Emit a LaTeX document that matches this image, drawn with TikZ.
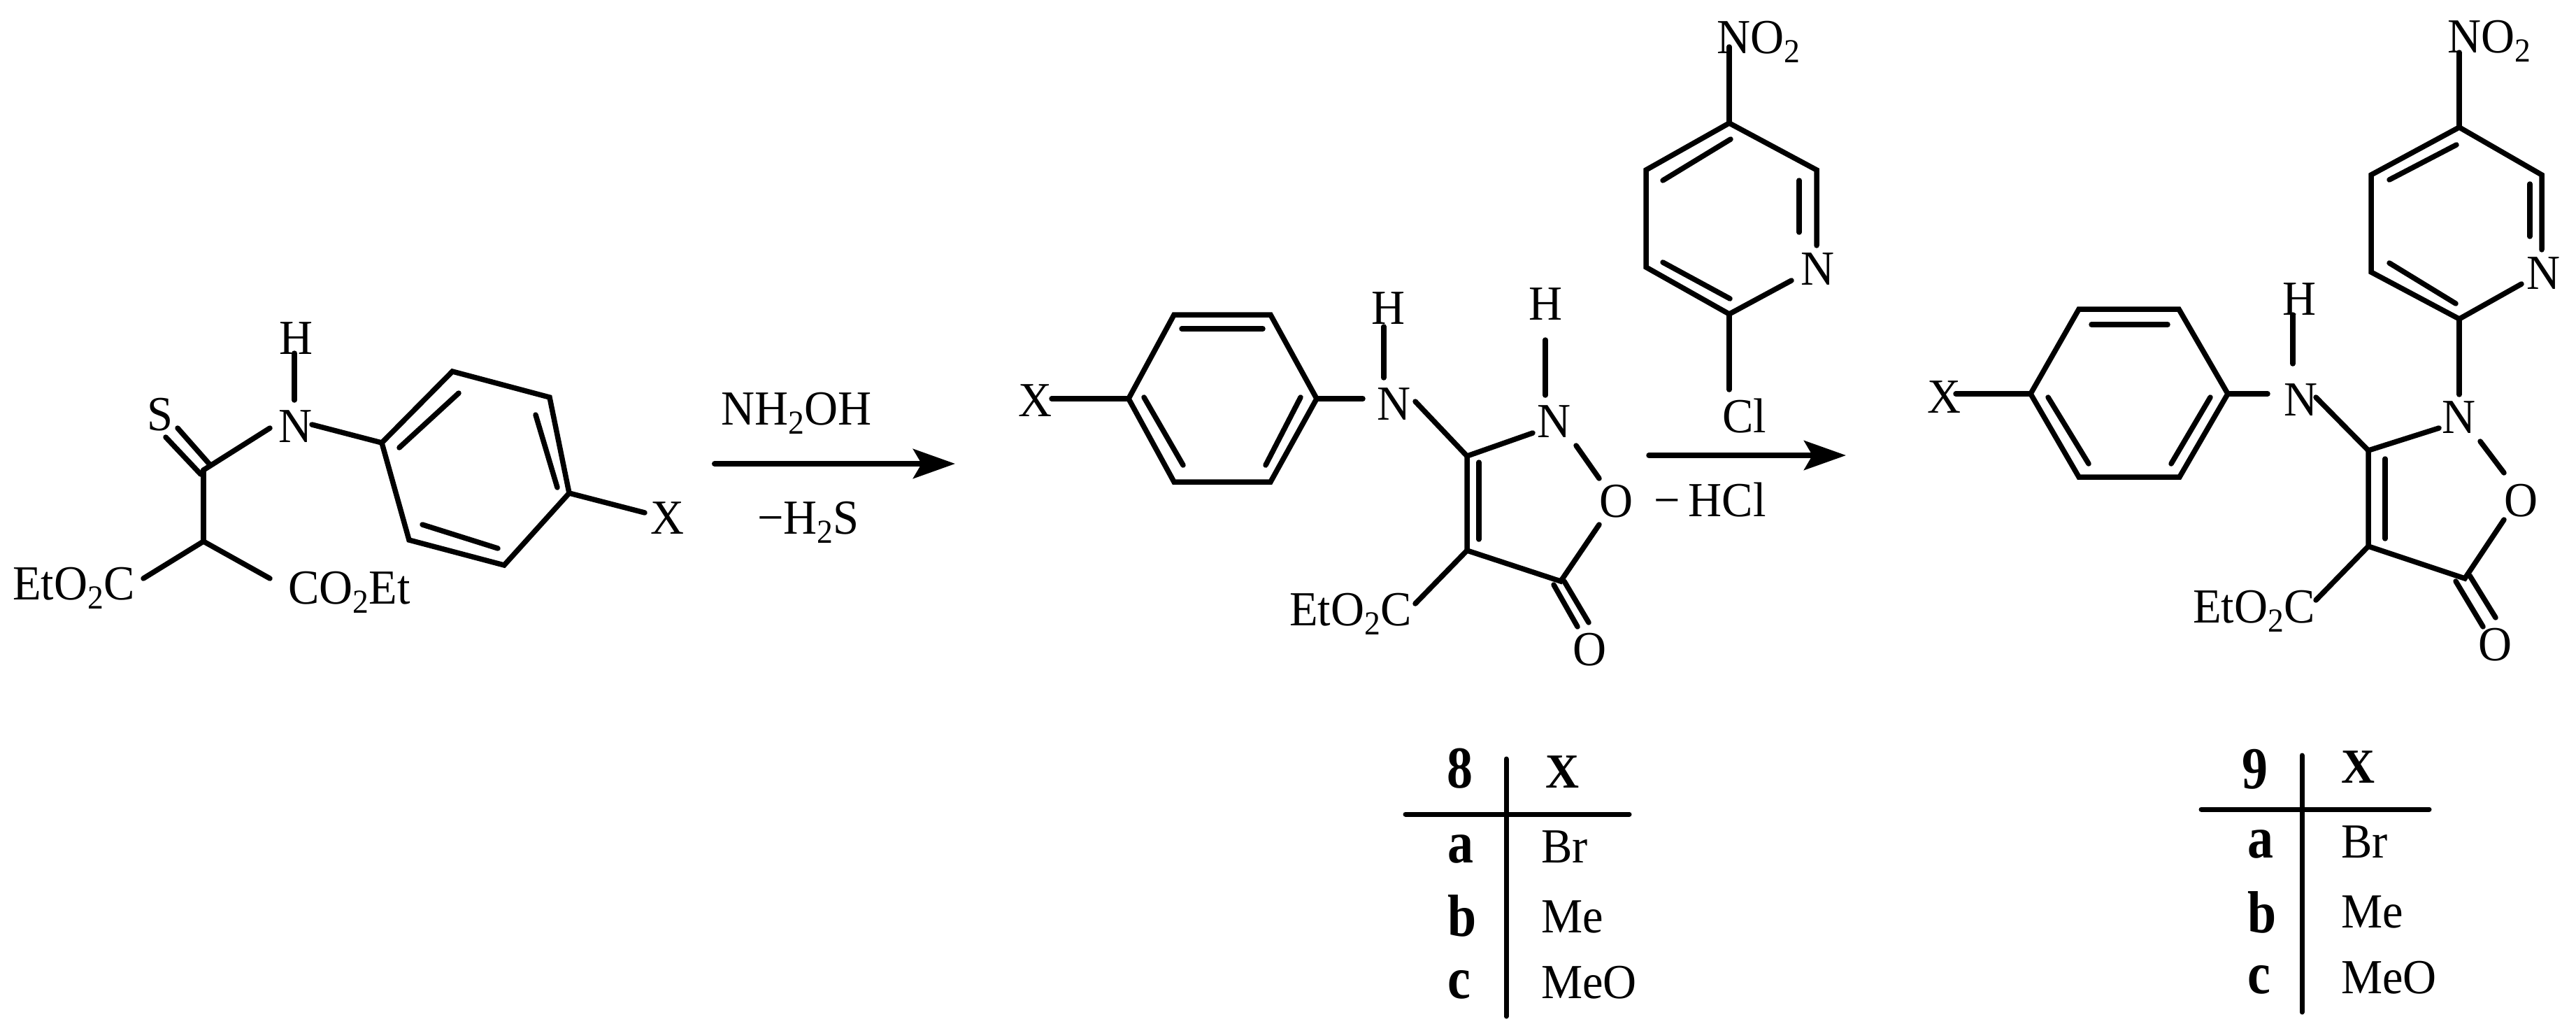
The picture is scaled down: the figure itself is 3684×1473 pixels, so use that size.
\documentclass[tikz,border=0pt]{standalone}
\usepackage{fontspec}
\setmainfont[FakeStretch=0.95]{Liberation Serif}
\newfontfamily\keyfont[FakeStretch=0.87]{Liberation Serif}
\usetikzlibrary{arrows.meta}
\newcommand\chemsize{\fontsize{70}{72}\selectfont}
\newcommand\subsize{\fontsize{48}{48}\selectfont}
\newcommand\keysize{\keyfont\fontsize{85}{90}\selectfont\bfseries}
\newcommand\lowtwo{\raisebox{-13pt}{\subsize 2}}
\tikzset{
  bond/.style={line width=7.5pt,line cap=round,line join=miter},
  rxn/.style={line width=#1,line cap=round,-{Stealth[length=60pt,width=42pt,inset=12pt]}},
  rxn/.default=7.5pt,
  rule/.style={line width=7pt,line cap=round},
  atom/.style={inner sep=0pt,anchor=base,font=\chemsize},
  formula/.style={inner sep=0pt,anchor=base west,font=\chemsize},
  keylab/.style={inner sep=0pt,anchor=base,font=\keysize},
  keyx/.style={inner sep=0pt,anchor=base,font=\fontsize{70}{72}\selectfont\bfseries},
  keyrow/.style={inner sep=0pt,anchor=base west,font=\keysize},
}
\begin{document}
\begin{tikzpicture}[x=1pt,y=-1pt]
\useasboundingbox (0,0) rectangle (3684,1473);
\fill[white] (0,0) rectangle (3684,1473);

% ---------- starting thioamide ----------
\node[atom] (aH) at (424,506) {H};
\node[atom] (aN) at (423,632) {N};
\node[atom] (aS) at (229,615) {S};
\node[atom] (aX) at (955,763) {X};
\node[formula] (aEst1) at (18,857) {EtO\lowtwo C};
\node[formula] (aEst2) at (412,863) {CO\lowtwo Et};
\coordinate (aC) at (291,672);
\coordinate (aCH) at (291,774);
\coordinate (a1) at (546,633);
\coordinate (a2) at (647,531);
\coordinate (a3) at (786,568);
\coordinate (a4) at (814,705);
\coordinate (a5) at (721,808);
\coordinate (a6) at (585,772);
\coordinate (aHb) at (421,505);
\coordinate (aNt) at (421,572);
\coordinate (aNl) at (386,612);
\coordinate (aNr) at (446,607);
\coordinate (aSa) at (254,612);
\coordinate (aSb) at (237,625);
\coordinate (aCa) at (299,663);
\coordinate (aCb) at (287,678);
\coordinate (aXb) at (922,733);
\coordinate (aE1) at (205,827);
\coordinate (aE2) at (386,827);
\coordinate (ai1) at (656,562);
\coordinate (ai2) at (571,640);
\coordinate (ai3) at (766,593);
\coordinate (ai4) at (797,697);
\coordinate (ai5) at (604,750);
\coordinate (ai6) at (712,784);
\draw[bond] (a1)--(a2)--(a3)--(a4)--(a5)--(a6)--cycle;
\draw[bond] (ai1)--(ai2);
\draw[bond] (ai3)--(ai4);
\draw[bond] (ai5)--(ai6);
\draw[bond] (aHb)--(aNt);
\draw[bond] (aC)--(aNl);
\draw[bond] (aNr)--(a1);
\draw[bond] (aCa)--(aSa);
\draw[bond] (aCb)--(aSb);
\draw[bond] (aC)--(aCH);
\draw[bond] (aCH)--(aE1);
\draw[bond] (aCH)--(aE2);
\draw[bond] (a4)--(aXb);

% ---------- arrow 1 ----------
\node[formula] (r1) at (1031,607) {NH\lowtwo OH};
\node[formula] (r2) at (1083,763) {−H\lowtwo S};
\coordinate (A1s) at (1022,663);
\coordinate (A1e) at (1366,663);
\draw[rxn=8pt] (A1s)--(A1e);

% ---------- compound 8 ----------
\node[atom] (bX) at (1480,595) {X};
\node[atom] (bH1) at (1985,463) {H};
\node[atom] (bN1) at (1993,600) {N};
\node[atom] (bH2) at (2210,457) {H};
\node[atom] (bN2) at (2222,625) {N};
\node[atom] (bO1) at (2311,739) {O};
\node[atom] (bO2) at (2273,951) {O};
\node[formula] (bEst) at (1844,894) {EtO\lowtwo C};
\coordinate (b1) at (1614,570);
\coordinate (b2) at (1679,450);
\coordinate (b3) at (1817,450);
\coordinate (b4) at (1883,570);
\coordinate (b5) at (1817,689);
\coordinate (b6) at (1679,689);
\coordinate (bi1) at (1690,470);
\coordinate (bi2) at (1806,470);
\coordinate (bi3) at (1636,568);
\coordinate (bi4) at (1692,665);
\coordinate (bi5) at (1860,568);
\coordinate (bi6) at (1810,665);
\coordinate (bXb) at (1504,570);
\coordinate (bNl) at (1949,570);
\coordinate (bHa) at (1979,467);
\coordinate (bHb) at (1979,540);
\coordinate (bNr) at (2024,574);
\coordinate (bC3) at (2098,652);
\coordinate (bC4) at (2098,787);
\coordinate (bC5) at (2232,831);
\coordinate (bN2l) at (2192,619);
\coordinate (bH2a) at (2210,486);
\coordinate (bH2b) at (2210,565);
\coordinate (bN2r) at (2254,637);
\coordinate (bOt) at (2287,684);
\coordinate (bOb) at (2287,750);
\coordinate (bi7) at (2115,661);
\coordinate (bi8) at (2115,771);
\coordinate (bK1) at (2237,831);
\coordinate (bK2) at (2272,890);
\coordinate (bK3) at (2222,836);
\coordinate (bK4) at (2256,896);
\coordinate (bEb) at (2024,863);
\draw[bond] (b1)--(b2)--(b3)--(b4)--(b5)--(b6)--cycle;
\draw[bond] (bi1)--(bi2);
\draw[bond] (bi3)--(bi4);
\draw[bond] (bi5)--(bi6);
\draw[bond] (bXb)--(b1);
\draw[bond] (b4)--(bNl);
\draw[bond] (bHa)--(bHb);
\draw[bond] (bNr)--(bC3);
\draw[bond] (bN2l)--(bC3)--(bC4)--(bC5)--(bOb);
\draw[bond] (bi7)--(bi8);
\draw[bond] (bH2a)--(bH2b);
\draw[bond] (bN2r)--(bOt);
\draw[bond] (bK1)--(bK2);
\draw[bond] (bK3)--(bK4);
\draw[bond] (bC4)--(bEb);

% ---------- 2-chloro-5-nitropyridine ----------
\node[formula] (cNO) at (2455,76) {NO\lowtwo};
\node[atom] (cN) at (2599,407) {N};
\node[formula] (cCl) at (2463,618) {Cl};
\coordinate (c1) at (2473,176);
\coordinate (c2) at (2354,243);
\coordinate (c3) at (2354,382);
\coordinate (c4) at (2473,449);
\coordinate (c5) at (2598,243);
\coordinate (cNa) at (2598,351);
\coordinate (cNb) at (2562,401);
\coordinate (cNO2b) at (2473,67);
\coordinate (cClb) at (2473,557);
\coordinate (ci1) at (2573,258);
\coordinate (ci2) at (2573,332);
\coordinate (ci3) at (2378,258);
\coordinate (ci4) at (2475,199);
\coordinate (ci5) at (2378,375);
\coordinate (ci6) at (2474,427);
\draw[bond] (cNa)--(c5)--(c1)--(c2)--(c3)--(c4)--(cNb);
\draw[bond] (cNO2b)--(c1);
\draw[bond] (c4)--(cClb);
\draw[bond] (ci1)--(ci2);
\draw[bond] (ci3)--(ci4);
\draw[bond] (ci5)--(ci6);

% ---------- arrow 2 ----------
\node[formula] (r3) at (2365,738) {−\hspace{12pt}HCl};
\coordinate (A2s) at (2358,651);
\coordinate (A2e) at (2640,651);
\draw[rxn=7.5pt] (A2s)--(A2e);

% ---------- compound 9 ----------
\node[formula] (dNO) at (3500,75) {NO\lowtwo};
\node[atom] (dN) at (3637,413) {N};
\node[atom] (dX) at (2780,590) {X};
\node[atom] (dH) at (3288,450) {H};
\node[atom] (dN1) at (3290,594) {N};
\node[atom] (dN2) at (3516,619) {N};
\node[atom] (dO1) at (3605,738) {O};
\node[atom] (dO2) at (3568,944) {O};
\node[formula] (dEst) at (3136,890) {EtO\lowtwo C};
\coordinate (d1) at (3517,182);
\coordinate (d2) at (3391,250);
\coordinate (d3) at (3391,389);
\coordinate (d4) at (3517,456);
\coordinate (d5) at (3635,250);
\coordinate (dNa) at (3635,357);
\coordinate (dNb) at (3606,406);
\coordinate (dNO2b) at (3517,75);
\coordinate (dN2t) at (3517,564);
\coordinate (di1) at (3618,263);
\coordinate (di2) at (3618,338);
\coordinate (di3) at (3417,257);
\coordinate (di4) at (3513,207);
\coordinate (di5) at (3417,376);
\coordinate (di6) at (3512,434);
\coordinate (e1) at (2904,563);
\coordinate (e2) at (2973,442);
\coordinate (e3) at (3116,442);
\coordinate (e4) at (3186,563);
\coordinate (e5) at (3117,682);
\coordinate (e6) at (2973,682);
\coordinate (ei1) at (2991,464);
\coordinate (ei2) at (3100,464);
\coordinate (ei3) at (2929,568);
\coordinate (ei4) at (2987,663);
\coordinate (ei5) at (3161,568);
\coordinate (ei6) at (3105,663);
\coordinate (dXb) at (2797,563);
\coordinate (dNl) at (3243,563);
\coordinate (dHa) at (3279,450);
\coordinate (dHb) at (3279,520);
\coordinate (dNr) at (3312,568);
\coordinate (dC3) at (3387,644);
\coordinate (dC4) at (3387,781);
\coordinate (dC5) at (3525,827);
\coordinate (dN2l) at (3488,612);
\coordinate (dN2r) at (3547,631);
\coordinate (dOt) at (3581,676);
\coordinate (dOb) at (3581,743);
\coordinate (di7) at (3411,656);
\coordinate (di8) at (3411,770);
\coordinate (dK1) at (3532,823);
\coordinate (dK2) at (3569,883);
\coordinate (dK3) at (3512,831);
\coordinate (dK4) at (3551,896);
\coordinate (dEb) at (3312,858);
\draw[bond] (dNa)--(d5)--(d1)--(d2)--(d3)--(d4)--(dNb);
\draw[bond] (dNO2b)--(d1);
\draw[bond] (d4)--(dN2t);
\draw[bond] (di1)--(di2);
\draw[bond] (di3)--(di4);
\draw[bond] (di5)--(di6);
\draw[bond] (e1)--(e2)--(e3)--(e4)--(e5)--(e6)--cycle;
\draw[bond] (ei1)--(ei2);
\draw[bond] (ei3)--(ei4);
\draw[bond] (ei5)--(ei6);
\draw[bond] (dXb)--(e1);
\draw[bond] (e4)--(dNl);
\draw[bond] (dHa)--(dHb);
\draw[bond] (dNr)--(dC3);
\draw[bond] (dN2l)--(dC3)--(dC4)--(dC5)--(dOb);
\draw[bond] (di7)--(di8);
\draw[bond] (dN2r)--(dOt);
\draw[bond] (dK1)--(dK2);
\draw[bond] (dK3)--(dK4);
\draw[bond] (dC4)--(dEb);

% ---------- table 8 ----------
\node[keylab] (t8) at (2088,1126) {8};
\node[keyx] (t8x) at (2234,1126) {X};
\node[keyrow] (t8a) at (2070,1233) {a};
\node[keyrow] (t8b) at (2070,1338) {b};
\node[keyrow] (t8c) at (2070,1427) {c};
\node[formula] (t8br) at (2204,1233) {Br};
\node[formula] (t8me) at (2204,1333) {Me};
\node[formula] (t8meo) at (2204,1427) {MeO};
\coordinate (t8v1) at (2154,1085);
\coordinate (t8v2) at (2154,1453);
\coordinate (t8h1) at (2010,1164);
\coordinate (t8h2) at (2330,1164);
\draw[rule] (t8v1)--(t8v2);
\draw[rule] (t8h1)--(t8h2);

% ---------- table 9 ----------
\node[keylab] (t9) at (3225,1127) {9};
\node[keyx] (t9x) at (3372,1119) {X};
\node[keyrow] (t9a) at (3214,1226) {a};
\node[keyrow] (t9b) at (3214,1333) {b};
\node[keyrow] (t9c) at (3214,1420) {c};
\node[formula] (t9br) at (3348,1226) {Br};
\node[formula] (t9me) at (3348,1326) {Me};
\node[formula] (t9meo) at (3348,1420) {MeO};
\coordinate (t9v1) at (3292,1080);
\coordinate (t9v2) at (3292,1447);
\coordinate (t9h1) at (3148,1157);
\coordinate (t9h2) at (3474,1157);
\draw[rule] (t9v1)--(t9v2);
\draw[rule] (t9h1)--(t9h2);
\end{tikzpicture}
\end{document}
